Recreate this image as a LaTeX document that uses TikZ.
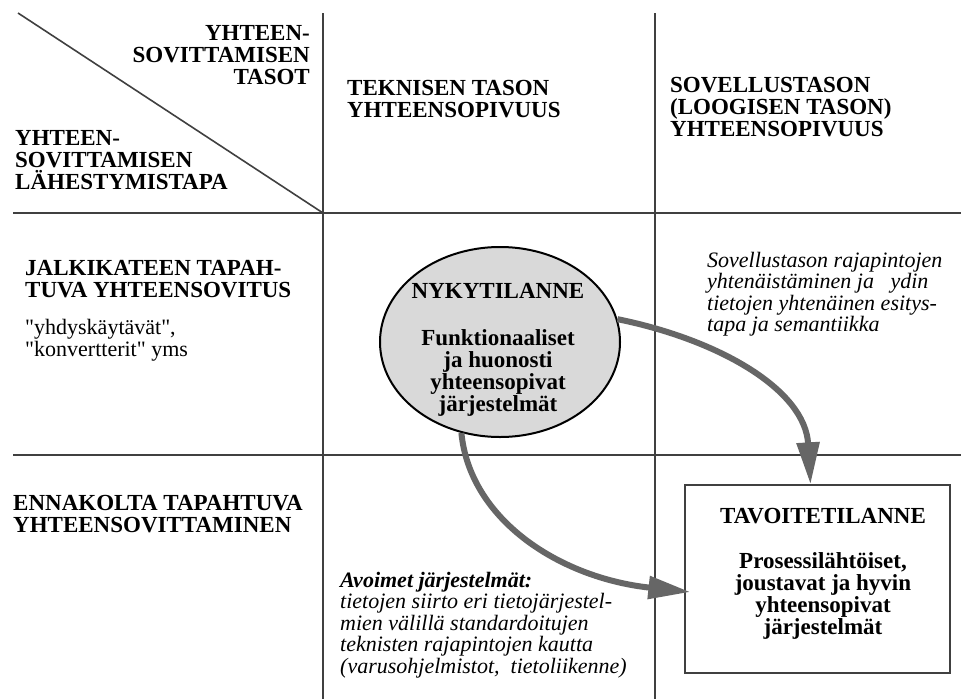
\documentclass[tikz,border=0pt]{standalone}
\usepackage{fontspec}
\setmainfont{Liberation Serif}
\newfontfamily\plainserif{Liberation Serif}
\usetikzlibrary{shapes.geometric,arrows.meta}
\tikzset{
  gridline/.style={line width=1.6pt, draw=black!75},
  boxline/.style={line width=1.3pt, draw=black!75},
  hdr/.style={font=\bfseries\fontsize{23}{22}\selectfont, inner sep=0pt},
  reg/.style={font=\plainserif\fontsize{22}{22.5}\selectfont, inner sep=0pt, align=left},
  itx/.style={font=\itshape\fontsize{22}{21.5}\selectfont, inner sep=0pt, align=left},
  bigarrow/.style={line width=6pt, draw=black!60, -{Triangle[length=42pt,width=22pt]}},
}
\begin{document}
\begin{tikzpicture}[x=1pt,y=-1pt]
\useasboundingbox[fill=white] (0,0) rectangle (961,699);
% grid
\coordinate (v1t) at (323,13);  \coordinate (v1b) at (323,699);
\coordinate (v2t) at (655,13);  \coordinate (v2b) at (655,699);
\coordinate (h1l) at (13,213);  \coordinate (h1r) at (961,213);
\coordinate (h2l) at (13,455);  \coordinate (h2r) at (961,455);
\coordinate (dgs) at (18,13);   \coordinate (corner) at (323,213);
\draw[gridline] (v1t) -- (v1b);
\draw[gridline] (v2t) -- (v2b);
\draw[gridline] (h1l) -- (h1r);
\draw[gridline] (h2l) -- (h2r);
\draw[gridline] (dgs) -- (corner);
% headers
\node[hdr, align=right, anchor=north east] (tasot) at (310,25) {YHTEEN-\\SOVITTAMISEN\\TASOT};
\node[hdr, align=left, anchor=north west] (tapa) at (15,130) {YHTEEN-\\SOVITTAMISEN\\LÄHESTYMISTAPA};
\node[hdr, align=left, anchor=north west] (tekn) at (347,80) {TEKNISEN TASON\\YHTEENSOPIVUUS};
\node[hdr, align=left, anchor=north west] (sov) at (670,77) {SOVELLUSTASON\\(LOOGISEN TASON)\\YHTEENSOPIVUUS};
\node[hdr, align=left, anchor=north west] (jalki) at (25,260) {JALKIKATEEN TAPAH-\\TUVA YHTEENSOVITUS};
\node[reg, anchor=north west] (yhdys) at (25,319) {"yhdyskäytävät",\\"konvertterit" yms};
\node[hdr, align=left, anchor=north west] (ennak) at (13,495) {ENNAKOLTA TAPAHTUVA\\YHTEENSOVITTAMINEN};
% current state
\node[ellipse, draw, line width=2pt, fill=black!15, minimum width=240pt, minimum height=190pt, inner sep=0pt] (now) at (500,342) {};
\node[hdr, align=center, anchor=north] (nowtxt) at (498,283) {NYKYTILANNE\\[25pt]Funktionaaliset\\ja huonosti\\yhteensopivat\\järjestelmät};
% target state
\node[boxline, draw, fill=white, minimum width=265pt, minimum height=188pt, inner sep=0pt] (goal) at (817.5,579) {};
\node[hdr, align=center, anchor=north] (goaltxt) at (823,508) {TAVOITETILANNE\\[23pt]Prosessilähtöiset,\\joustavat ja hyvin\\yhteensopivat\\järjestelmät};
% italic notes
\node[itx, anchor=north west] (sovtxt) at (707,252) {Sovellustason rajapintojen\\yhtenäistäminen ja\ \ \ ydin\\tietojen yhtenäinen esitys-\\tapa ja semantiikka};
\node[itx, anchor=north west] (open) at (340,572) {\textbf{Avoimet järjestelmät:}\\tietojen siirto eri tietojärjestel-\\mien välillä standardoitujen\\teknisten rajapintojen kautta\\(varusohjelmistot,\ \ tietoliikenne)};
% arrows
\draw[bigarrow] (now.11) .. controls (720,340) and (805,390) .. ([xshift=-7pt]goal.north);
\draw[bigarrow] (now.247) .. controls (470,520) and (560,578) .. ([xshift=6pt,yshift=-13pt]goal.west);
\end{tikzpicture}
\end{document}
